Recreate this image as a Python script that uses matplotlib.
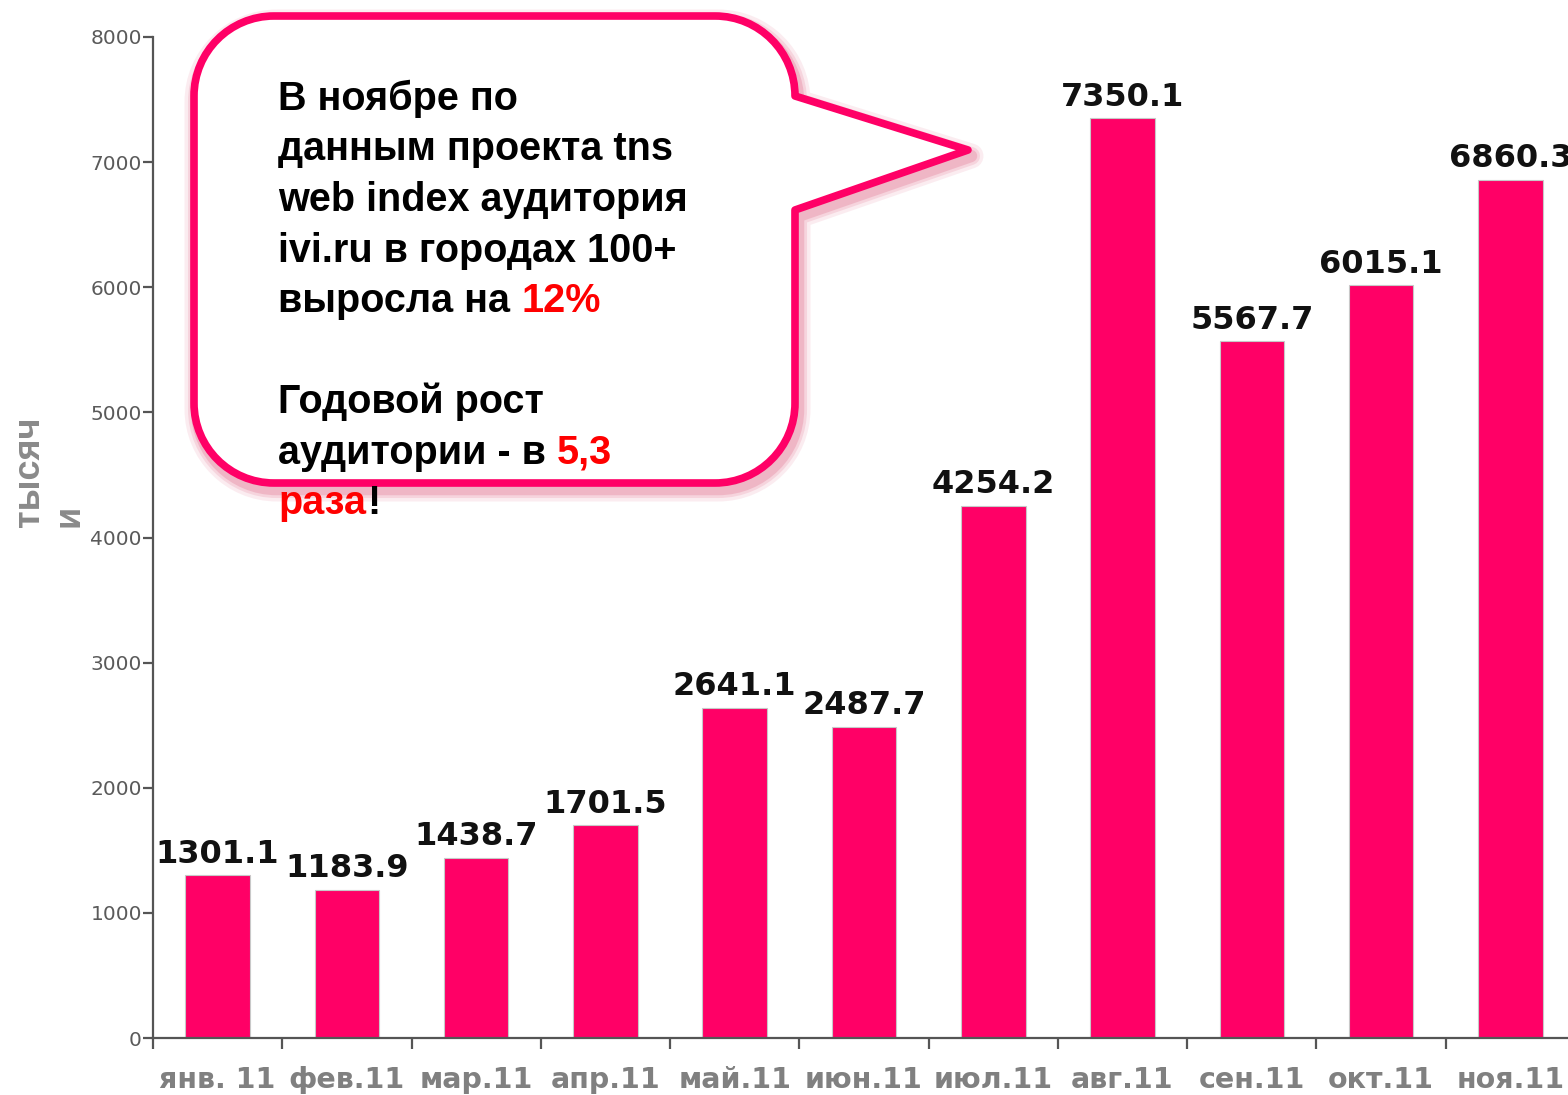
import matplotlib
matplotlib.use("Agg")
import matplotlib.pyplot as plt
from matplotlib.path import Path
from matplotlib.patches import PathPatch
from matplotlib.transforms import Affine2D

# data
months = ["янв. 11", "фев.11", "мар.11", "апр.11", "май.11", "июн.11",
          "июл.11", "авг.11", "сен.11", "окт.11", "ноя.11"]
audience = [1301.1, 1183.9, 1438.7, 1701.5, 2641.1, 2487.7,
            4254.2, 7350.1, 5567.7, 6015.1, 6860.3]
y_ticks = [0, 1000, 2000, 3000, 4000, 5000, 6000, 7000, 8000]
y_label = "тысяч\nи"

# callout text: each line is a list of (text, colour) runs
callout_lines = [
    [("В ноябре по", "black")],
    [("данным проекта tns", "black")],
    [("web index аудитория", "black")],
    [("ivi.ru в городах 100+", "black")],
    [("выросла на", "black"), ("12%", "red")],
    [],
    [("Годовой рост", "black")],
    [("аудитории - в", "black"), ("5,3", "red")],
    [("раза", "red"), ("!", "black")],
]

PINK = "#FF0066"
W, H = 1568, 1095

fig = plt.figure(figsize=(W / 100, H / 100), dpi=100)
fig.patch.set_facecolor("white")

# axes placed in pixel terms; right end runs past the figure edge like the original
ax = fig.add_axes([153 / W, 57 / H, 1422 / W, 1001 / H])
x = list(range(len(months)))
ax.bar(x, audience, width=0.5, color=PINK, edgecolor="#c8c8c8", linewidth=0.8, zorder=2)
ax.set_xlim(-0.5, len(months) - 0.5)
ax.set_ylim(0, 8000)

for xi, v in zip(x, audience):
    ax.annotate(f"{v:.1f}", (xi, v), xytext=(0, 4), textcoords="offset points",
                ha="center", va="bottom", fontsize=23, fontweight="bold",
                family="DejaVu Sans", color="#111111")

for s in ["top", "right"]:
    ax.spines[s].set_visible(False)
for s in ["left", "bottom"]:
    ax.spines[s].set_color("#555555")
    ax.spines[s].set_linewidth(1.6)

ax.set_yticks(y_ticks)
ax.set_yticklabels([str(t) for t in y_ticks])
ax.tick_params(axis="y", length=7, width=1.6, color="#555555", labelcolor="#5a5a5a",
               labelsize=14.5, pad=1)

ax.set_xticks([i - 0.5 for i in range(len(months))])
ax.set_xticklabels([])
ax.tick_params(axis="x", which="major", length=8, width=1.6, color="#555555")
ax.set_xticks(x, minor=True)
ax.set_xticklabels(months, minor=True)
ax.tick_params(axis="x", which="minor", length=0, pad=20, labelsize=20.5,
               labelcolor="#808080")
for lab in ax.get_xticklabels(minor=True):
    lab.set_fontweight("bold")

fig.text(12 / W, 1 - 527 / H, y_label, rotation=90, ha="left", va="bottom",
         multialignment="left", fontsize=26, fontweight="bold", color="#8a8a8a",
         family="Liberation Sans", linespacing=1.15)


# callout bubble, drawn in figure pixel coords (origin top-left)
def px(xp, yp):
    return (xp / W, 1 - yp / H)


L, R, T, B, r = 194, 795, 16, 483, 80
k = 0.5523 * r
tip = (968, 150)
tail_top, tail_bot = 96, 210
verts = [
    (L + r, T), (R - r, T),
    (R - r + k, T), (R, T + r - k), (R, T + r),
    (R, tail_top), tip, (R, tail_bot), (R, B - r),
    (R, B - r + k), (R - r + k, B), (R - r, B),
    (L + r, B),
    (L + r - k, B), (L, B - r + k), (L, B - r),
    (L, T + r),
    (L, T + r - k), (L + r - k, T), (L + r, T),
    (L + r, T),
]
codes = [Path.MOVETO, Path.LINETO,
         Path.CURVE4, Path.CURVE4, Path.CURVE4,
         Path.LINETO, Path.LINETO, Path.LINETO, Path.LINETO,
         Path.CURVE4, Path.CURVE4, Path.CURVE4,
         Path.LINETO,
         Path.CURVE4, Path.CURVE4, Path.CURVE4,
         Path.LINETO,
         Path.CURVE4, Path.CURVE4, Path.CURVE4,
         Path.CLOSEPOLY]
bubble = Path([px(a, b) for a, b in verts], codes)

# soft shadow
for lw, al in [(18, 0.12), (13, 0.18), (9, 0.28)]:
    sh = PathPatch(bubble, facecolor="none", edgecolor="#e06a88", linewidth=lw, alpha=al,
                   joinstyle="round", transform=Affine2D().translate(3 / W, -6 / H) + fig.transFigure)
    fig.add_artist(sh)
fig.add_artist(PathPatch(bubble, facecolor="white", edgecolor=PINK, linewidth=5.5,
                         joinstyle="round", transform=fig.transFigure, zorder=3))

renderer = fig.canvas.get_renderer()
font_kw = dict(fontsize=28.5, fontweight="bold", family="Liberation Sans", zorder=5)
probe1 = fig.text(0, 0, "x x", **font_kw)
probe2 = fig.text(0, 0, "xx", **font_kw)
gap = probe1.get_window_extent(renderer).width - probe2.get_window_extent(renderer).width
probe1.remove()
probe2.remove()

base_y = 110
for i, runs in enumerate(callout_lines):
    yb = base_y + i * 50.5
    xp = 278
    for j, (txt, col) in enumerate(runs):
        t = fig.text(xp / W, 1 - yb / H, txt, color=col if col == "black" else "#FF0000",
                     ha="left", va="baseline", **font_kw)
        bb = t.get_window_extent(renderer)
        xp = bb.x1 + (gap if txt not in ("раза",) else 1)

fig.savefig("out.png", dpi=100)
